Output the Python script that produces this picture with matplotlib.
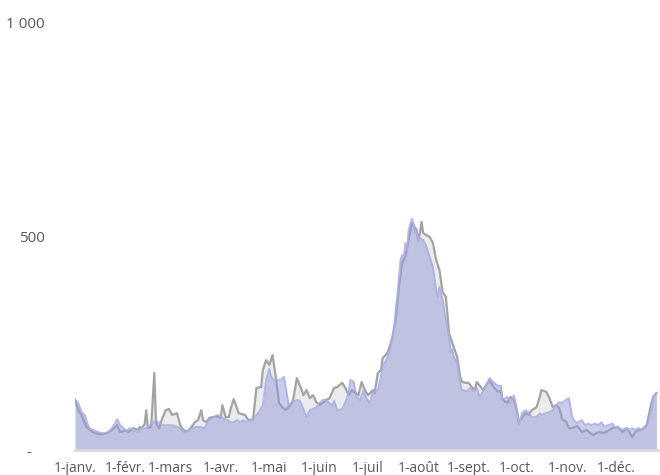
import matplotlib
matplotlib.use("Agg")
import matplotlib.pyplot as plt

# Day-of-year (0 = 1 January) and values
gray_days = [0, 2, 4, 7, 11, 14, 17, 20, 23, 26, 28, 31, 33, 36, 39, 40, 41, 43, 44, 45, 47, 49, 50, 52, 54, 56, 58, 60, 63, 65,
             66, 68, 70, 72, 74, 76, 78, 79, 81, 83, 85, 88, 90, 91, 93, 95, 96, 98, 100, 101, 103, 105, 107, 110, 112, 115, 116, 118, 120, 122,
             124, 126, 128, 130, 134, 135, 137, 140, 141, 143, 145, 147, 149, 151, 153, 155, 157, 160, 162, 165, 167, 169, 171, 173, 175, 177, 179, 181, 184, 185,
             187, 189, 190, 193, 195, 196, 198, 200, 202, 204, 206, 208, 209, 211, 212, 213, 214, 215, 217, 219, 221, 223, 225, 227, 229, 231, 233, 236, 238, 239,
             241, 243, 245, 247, 248, 250, 252, 254, 256, 258, 261, 263, 264, 267, 269, 271, 273, 274, 276, 278, 280, 282, 285, 287, 288, 291, 293, 295, 297, 299,
             301, 303, 305, 307, 310, 312, 313, 316, 318, 320, 322, 324, 326, 328, 330, 332, 335, 337, 338, 341, 343, 344, 346, 348, 350, 351, 353, 356, 357, 359]
gray_vals = [117, 93, 82, 54, 42, 37, 37, 40, 47, 58, 42, 45, 42, 51, 47, 54, 51, 60, 93, 51, 54, 180, 63, 51, 75, 93, 96, 82, 86, 58,
             51, 44, 45, 54, 65, 70, 93, 70, 65, 75, 77, 79, 75, 105, 77, 77, 95, 119, 98, 86, 84, 82, 70, 72, 145, 147, 187, 210, 199, 222,
             170, 110, 100, 93, 110, 124, 168, 140, 128, 140, 121, 128, 112, 105, 110, 117, 120, 145, 147, 157, 145, 128, 140, 133, 128, 159, 140, 128, 140, 133,
             180, 187, 215, 227, 250, 264, 304, 381, 437, 451, 490, 530, 525, 514, 491, 507, 533, 507, 502, 498, 484, 444, 421, 369, 358, 273, 250, 217, 168, 159,
             157, 157, 147, 140, 159, 150, 140, 152, 164, 150, 136, 138, 117, 110, 124, 117, 89, 65, 75, 86, 82, 93, 100, 124, 140, 136, 121, 100, 105, 98,
             70, 68, 51, 51, 56, 47, 42, 47, 40, 35, 40, 42, 40, 42, 47, 51, 54, 47, 42, 51, 37, 30, 42, 47, 47, 51, 58, 110, 124, 133]

blue_days = [0, 2, 4, 6, 8, 9, 12, 16, 19, 22, 24, 26, 28, 30, 32, 34, 36, 39, 40, 41, 44, 46, 48, 50, 52, 54, 56, 58, 60, 63,
             65, 68, 71, 74, 77, 80, 82, 85, 88, 90, 91, 94, 96, 98, 100, 102, 104, 106, 108, 110, 113, 115, 116, 118, 120, 121, 123, 125, 127, 129,
             130, 132, 134, 137, 139, 140, 143, 145, 147, 149, 151, 153, 155, 157, 159, 160, 162, 165, 167, 169, 170, 172, 174, 176, 178, 180, 182, 184, 187, 189,
             190, 193, 195, 196, 197, 198, 199, 201, 202, 203, 204, 205, 206, 208, 209, 210, 211, 212, 213, 215, 217, 219, 221, 223, 224, 225, 226, 227, 229, 231,
             232, 233, 234, 236, 238, 239, 242, 244, 246, 248, 250, 252, 254, 256, 258, 261, 263, 264, 267, 269, 271, 273, 274, 276, 278, 280, 282, 285, 287, 288,
             291, 293, 295, 297, 299, 301, 303, 305, 307, 308, 310, 313, 315, 317, 319, 321, 323, 325, 327, 329, 332, 333, 335, 338, 340, 342, 344, 346, 348, 350,
             351, 353, 356, 357, 359]
blue_vals = [118, 110, 89, 82, 58, 51, 45, 40, 39, 47, 58, 72, 58, 51, 45, 51, 45, 42, 45, 51, 51, 58, 65, 70, 63, 58, 58, 58, 58, 54,
             51, 40, 47, 54, 54, 51, 65, 75, 82, 79, 75, 70, 65, 65, 70, 65, 70, 65, 70, 72, 86, 98, 105, 164, 190, 171, 164, 164, 164, 171,
             150, 105, 112, 117, 115, 105, 77, 93, 96, 100, 110, 117, 117, 110, 103, 115, 93, 95, 112, 135, 164, 160, 124, 117, 138, 121, 110, 136, 140, 170,
             194, 217, 241, 262, 280, 327, 357, 444, 456, 450, 484, 465, 514, 540, 530, 507, 512, 486, 495, 491, 475, 451, 428, 374, 358, 381, 365, 350, 304, 264,
             227, 235, 217, 203, 155, 140, 138, 145, 138, 145, 124, 138, 150, 168, 160, 150, 150, 117, 124, 110, 128, 93, 58, 86, 93, 89, 77, 77, 86, 82,
             86, 89, 93, 105, 112, 110, 117, 121, 77, 70, 63, 70, 58, 62, 58, 62, 58, 65, 54, 58, 62, 54, 54, 47, 51, 47, 51, 47, 51, 47,
             51, 54, 93, 121, 133]

month_days = [0, 31, 59, 90, 120, 151, 181, 212, 243, 273, 304, 334]
month_labels = ["1-janv.", "1-févr.", "1-mars", "1-avr.", "1-mai", "1-juin", "1-juil", "1-août",
                "1-sept.", "1-oct.", "1-nov.", "1-déc."]
y_ticks = [0, 500, 1000]
y_labels = ["-   ", "500", "1 000"]

plt.rcParams['font.family'] = ['Open Sans', 'DejaVu Sans']

fig = plt.figure(figsize=(6.6, 4.75), dpi=100)
ax = fig.add_axes([75/660, 25/475, 583/660, 428/475])

ax.fill_between(gray_days, gray_vals, 0, color='#ebebeb', lw=0, zorder=1)
ax.plot(gray_days, gray_vals, color='#a3a3a3', lw=1.6, zorder=2)
ax.fill_between(blue_days, blue_vals, 0, color='#959cd8', alpha=0.5, lw=0, zorder=3)
ax.plot(blue_days, blue_vals, color='#a9aee6', lw=1.4, alpha=0.85, zorder=4)

ax.set_xlim(0, 360)
ax.set_ylim(0, 1000)
ax.set_xticks(month_days)
ax.set_xticklabels(month_labels)
ax.set_yticks(y_ticks)
ax.set_yticklabels(y_labels)
ax.tick_params(axis='both', length=0, colors='#595959')
ax.tick_params(axis='x', labelsize=10, pad=8)
ax.tick_params(axis='y', labelsize=11, pad=22)

for s in ['top', 'right', 'left']:
    ax.spines[s].set_visible(False)
ax.spines['bottom'].set_color('#d9d9d9')
ax.spines['bottom'].set_linewidth(2)
ax.spines['bottom'].set_zorder(5)

fig.savefig("out.png", dpi=100)
